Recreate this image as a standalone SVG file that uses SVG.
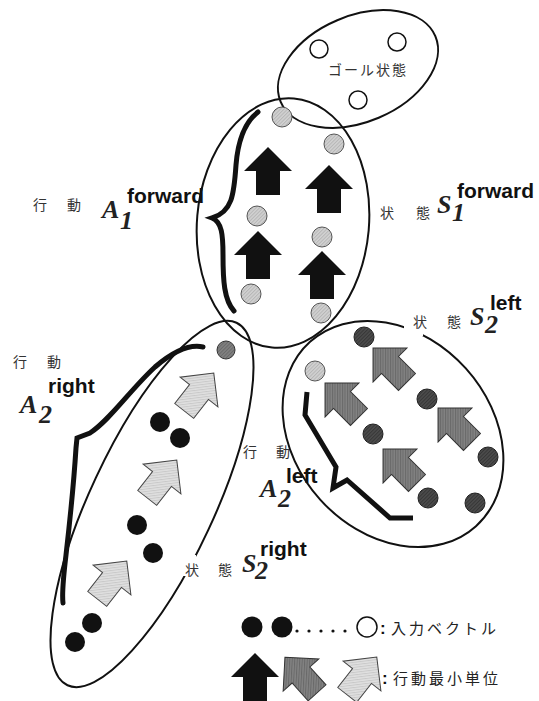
<svg xmlns="http://www.w3.org/2000/svg" width="539" height="701" viewBox="0 0 539 701">
<style>
.ell{fill:none;stroke:#111;stroke-width:2}
.cl{fill:url(#hl);stroke:#555;stroke-width:1}
.cm{fill:url(#hm);stroke:#333;stroke-width:1}
.cd{fill:url(#hd);stroke:#222;stroke-width:1}
.cb{fill:#111}
.co{fill:#fff;stroke:#111;stroke-width:1.5}
.ab{fill:#111}
.ad{fill:url(#hm);stroke:#333;stroke-width:1}
.al{fill:url(#hx);stroke:#444;stroke-width:1}
.br{fill:none;stroke:#111;stroke-width:5;stroke-linecap:round;stroke-linejoin:miter}
.jp{font-family:"Noto Sans CJK JP",sans-serif;font-size:14px;fill:#333}
.lg{font-size:15px;letter-spacing:3px;fill:#222}
.it{font-family:"Liberation Serif",serif;font-style:italic;font-weight:bold;font-size:26px;fill:#222}
.sup{font-family:"Liberation Sans",sans-serif;font-style:normal;font-weight:bold;font-size:21px;fill:#111}
.colon{font-family:"Liberation Sans",sans-serif;font-weight:bold;font-size:17px;fill:#111}
.gap{fill:#fff}
</style>
<defs>
<path id="arr" d="M0,-24 L24,0 L12,0 L12,24 L-12,24 L-12,0 L-24,0 Z"/>
<pattern id="hl" width="2.5" height="2.5" patternUnits="userSpaceOnUse" patternTransform="rotate(45)"><rect width="2.5" height="2.5" fill="#d2d2d2"/><rect width="1" height="2.5" fill="#b6b6b6"/></pattern>
<pattern id="hx" width="2.5" height="2.5" patternUnits="userSpaceOnUse" patternTransform="rotate(45)"><rect width="2.5" height="2.5" fill="#e0e0e0"/><rect width="1" height="2.5" fill="#c9c9c9"/></pattern>
<pattern id="hm" width="2.5" height="2.5" patternUnits="userSpaceOnUse" patternTransform="rotate(45)"><rect width="2.5" height="2.5" fill="#828282"/><rect width="1" height="2.5" fill="#696969"/></pattern>
<pattern id="hd" width="2.5" height="2.5" patternUnits="userSpaceOnUse" patternTransform="rotate(45)"><rect width="2.5" height="2.5" fill="#4c4c4c"/><rect width="1" height="2.5" fill="#363636"/></pattern>
</defs>

<g id="goal">
<ellipse class="ell" cx="358" cy="69" rx="84" ry="53" transform="rotate(-23 358 69)"/>
<circle class="co" cx="319" cy="49" r="9"/>
<circle class="co" cx="397" cy="42" r="9"/>
<circle class="co" cx="358" cy="100" r="9"/>
<text class="jp" x="328" y="75" letter-spacing="2">ゴール状態</text>
</g>

<g id="forward">
<ellipse class="ell" cx="283" cy="223" rx="86" ry="125" transform="rotate(5 283 223)"/>
<circle class="cl" cx="282" cy="117" r="10"/>
<circle class="cl" cx="334" cy="144" r="10"/>
<circle class="cl" cx="257" cy="216" r="10"/>
<circle class="cl" cx="322" cy="237" r="10"/>
<circle class="cl" cx="251" cy="294" r="10"/>
<circle class="cl" cx="321" cy="313" r="10"/>
<use href="#arr" class="ab" transform="translate(268 171)"/>
<use href="#arr" class="ab" transform="translate(329 189)"/>
<use href="#arr" class="ab" transform="translate(258 255)"/>
<use href="#arr" class="ab" transform="translate(322 275)"/>
</g>

<g id="right-action">
<ellipse class="ell" cx="152" cy="504" rx="200" ry="62" transform="rotate(-65 152 504)"/>
<circle class="cm" cx="226" cy="350" r="9"/>
<circle class="cb" cx="160" cy="422" r="10"/>
<circle class="cb" cx="180" cy="438" r="10"/>
<circle class="cb" cx="137" cy="525" r="10"/>
<circle class="cb" cx="153" cy="553" r="10"/>
<circle class="cb" cx="92" cy="623" r="10"/>
<circle class="cb" cx="75" cy="642" r="10"/>
<use href="#arr" class="al" transform="translate(199 392) rotate(38)"/>
<use href="#arr" class="al" transform="translate(162 479) rotate(38)"/>
<use href="#arr" class="al" transform="translate(112 580) rotate(38)"/>
</g>

<g id="left-action">
<ellipse class="ell" cx="393" cy="434" rx="124" ry="98" transform="rotate(48 393 434)"/>
<circle class="cl" cx="315" cy="371" r="10"/>
<circle class="cd" cx="364" cy="337" r="10"/>
<circle class="cd" cx="427" cy="399" r="10"/>
<circle class="cd" cx="373" cy="434" r="10"/>
<circle class="cd" cx="488" cy="457" r="10"/>
<circle class="cd" cx="428" cy="498" r="10"/>
<circle class="cd" cx="475" cy="503" r="10"/>
<use href="#arr" class="ad" transform="translate(390 365) rotate(-45)"/>
<use href="#arr" class="ad" transform="translate(342 400) rotate(-45)"/>
<use href="#arr" class="ad" transform="translate(455 425) rotate(-45)"/>
<use href="#arr" class="ad" transform="translate(400 466) rotate(-45)"/>
</g>

<g id="connectors">
<path class="br" d="M258,112 C245,122 238,140 236,165 C234,195 232,212 212,218 C222,222 223,235 223,255 C223,280 224,300 234,311"/>
<path class="br" d="M203,347 C190,344 175,350 155,367 C130,390 110,420 90,433 L77,438 L76,448 C74,480 70,520 66,555 C63,580 62,595 63,603"/>
<path class="br" style="stroke-linecap:butt" d="M307,392 L305,415 L336,467 L333,488 L347,480 L390,518 L413,518"/>
</g>

<rect class="gap" x="404" y="318" width="19" height="18"/>
<rect class="gap" x="180" y="555" width="16" height="21"/>

<g id="labels">
<text class="jp" x="33 67" y="210">行動</text>
<text class="it"><tspan x="102" y="218">A</tspan><tspan x="120" y="229">1</tspan><tspan class="sup" x="127" y="203">forward</tspan></text>

<text class="jp" x="380 416" y="218">状態</text>
<text class="it"><tspan x="437" y="213">S</tspan><tspan x="452" y="221">1</tspan><tspan class="sup" x="457" y="198">forward</tspan></text>

<text class="jp" x="413 447" y="327">状態</text>
<text class="it"><tspan x="470" y="325">S</tspan><tspan x="485" y="333">2</tspan><tspan class="sup" x="490" y="310">left</tspan></text>

<text class="jp" x="13 47" y="367">行動</text>
<text class="it"><tspan x="20" y="413">A</tspan><tspan x="39" y="423">2</tspan><tspan class="sup" x="48" y="393">right</tspan></text>

<text class="jp" x="243 276" y="457">行動</text>
<text class="it"><tspan x="260" y="497">A</tspan><tspan x="278" y="507">2</tspan><tspan class="sup" x="286" y="483">left</tspan></text>

<text class="jp" x="185 218" y="575">状態</text>
<text class="it"><tspan x="242" y="572">S</tspan><tspan x="255" y="579">2</tspan><tspan class="sup" x="260" y="556">right</tspan></text>
</g>

<g id="legend">
<circle class="cb" cx="252" cy="627" r="10.5"/>
<circle class="cb" cx="282" cy="627" r="10.5"/>
<circle class="cb" cx="297" cy="631" r="1.6"/>
<circle class="cb" cx="309" cy="631" r="1.6"/>
<circle class="cb" cx="321" cy="631" r="1.6"/>
<circle class="cb" cx="333" cy="631" r="1.6"/>
<circle class="cb" cx="345" cy="631" r="1.6"/>
<circle class="co" cx="367" cy="627" r="10"/>
<text class="colon" x="380" y="634">:</text>
<text class="jp lg" x="391" y="634">入力ベクトル</text>
<use href="#arr" class="ab" transform="translate(255 677)"/>
<use href="#arr" class="ad" transform="translate(301 675) rotate(-42)"/>
<use href="#arr" class="al" transform="translate(362 676) rotate(38)"/>
<text class="colon" x="382" y="684">:</text>
<text class="jp lg" x="393" y="684">行動最小単位</text>
</g>
</svg>
